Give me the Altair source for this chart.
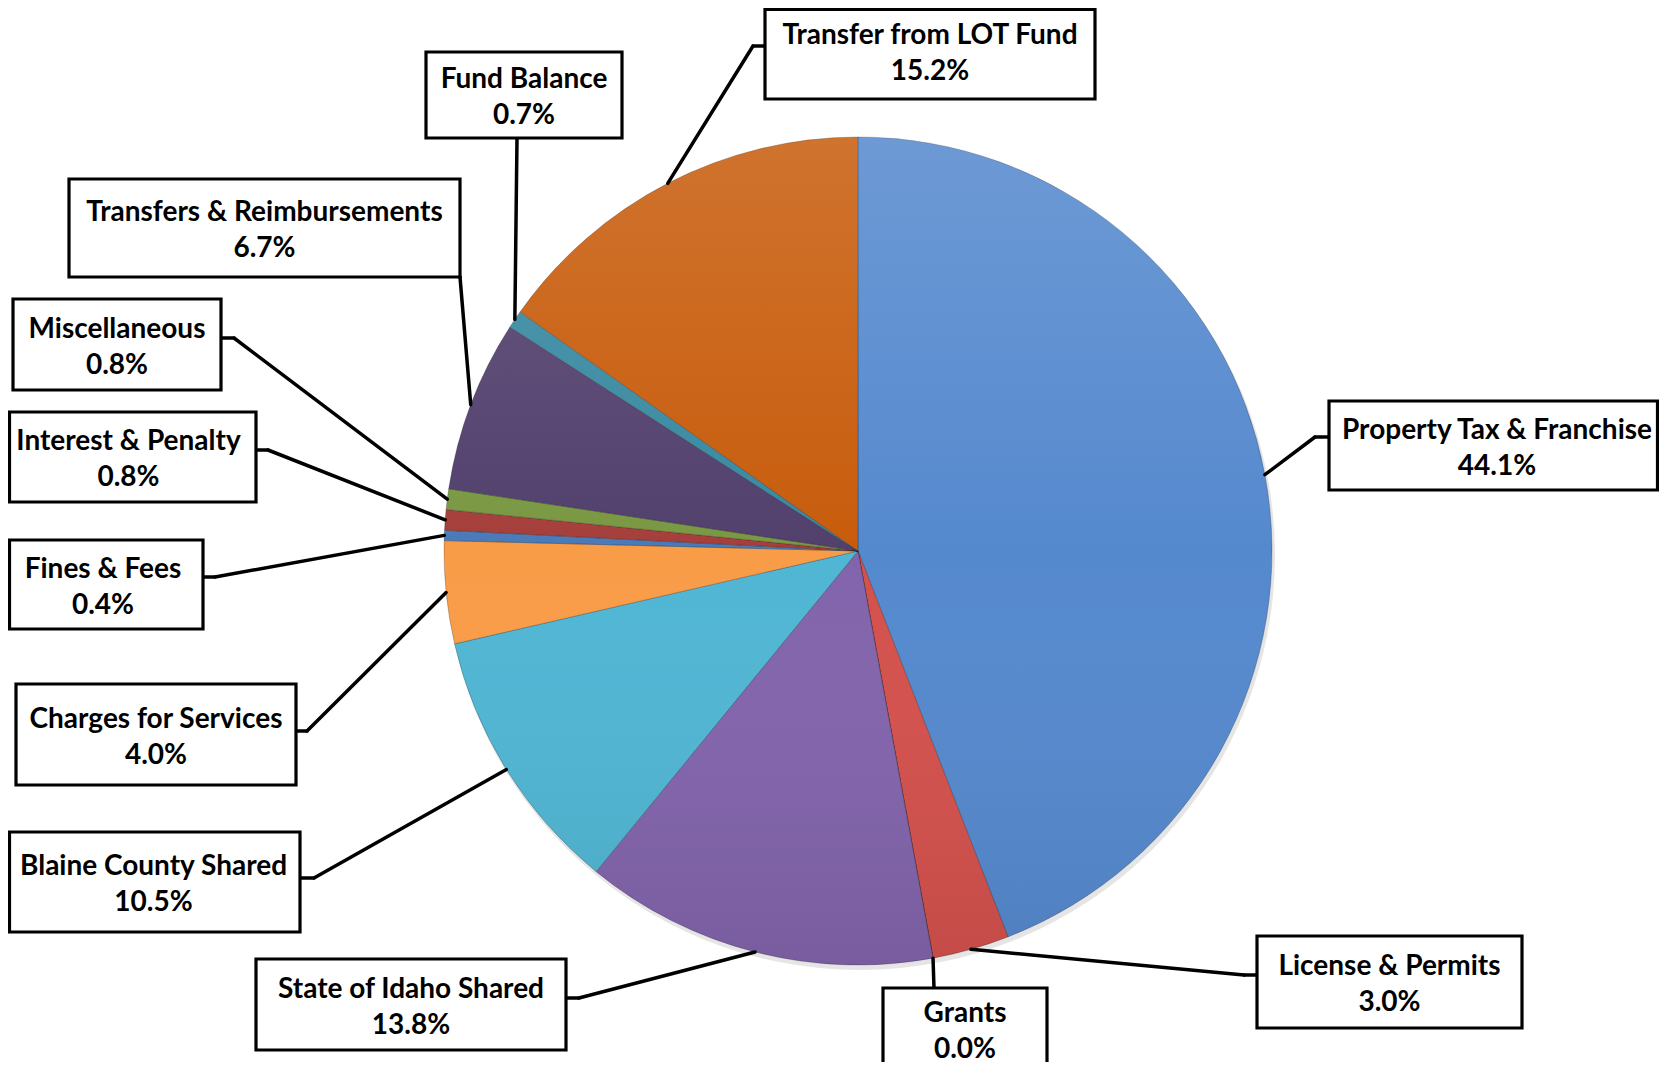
import altair as alt
import pandas as pd
import numpy as np

# ---------------- data ----------------
categories = [
    "Property Tax & Franchise", "License & Permits", "Grants",
    "State of Idaho Shared", "Blaine County Shared", "Charges for Services",
    "Fines & Fees", "Interest & Penalty", "Miscellaneous",
    "Transfers & Reimbursements", "Fund Balance", "Transfer from LOT Fund",
]
shares = [44.1, 3.0, 0.0, 13.8, 10.5, 4.0, 0.4, 0.8, 0.8, 6.7, 0.7, 15.2]
colors = [
    "#5589CE", "#D4514D", "#9BBB59", "#8264AC", "#50B6D4", "#F99C48",
    "#4A7AB8", "#A63F3B", "#7A9843", "#52406D", "#3889A1", "#C85C0C",
]

# ---------------- layout (page pixels) ----------------
W, H = 1651, 1054
CX, CY, R = 858, 551, 414
box_x1 = [1329, 1257, 883, 256, 7, 16, 3, 1, 13, 69, 426, 765]
box_y1 = [401, 936, 988, 959, 832, 684, 540, 412, 299, 179, 52, 3]
box_x2 = [1665, 1522, 1047, 566, 300, 296, 203, 256, 221, 460, 622, 1095]
box_y2 = [490, 1028, 1069, 1050, 932, 785, 629, 502, 390, 277, 138, 99]
attach_x = [1329, 1257, 934, 566, 300, 296, 203, 256, 221, 460, 517, 765]
attach_y = [437, 975, 988, 998, 878, 731, 577, 450, 338, 277, 138, 46]
elbow_x = [1315, 1244, 934, 579, 314, 307, 215, 268, 234, 460, 517, 753]
elbow_y = [437, 975, 988, 998, 878, 731, 577, 450, 338, 277, 138, 46]

FONT = "Lato"
FSIZE = 28
LO, HI_X = 9.5, 8 + W - 1.5

df = pd.DataFrame({
    "idx": range(len(categories)),
    "name": categories,
    "share": shares,
})
df["pct"] = df["share"].map(lambda v: f"{v:.1f}%")
cum = df["share"].cumsum()
mid = (cum - df["share"] / 2) / 100.0 * 2 * np.pi
df["ax"] = CX + R * np.sin(mid)
df["ay"] = CY - R * np.cos(mid)
bx1 = np.array(box_x1, float); by1 = np.array(box_y1, float)
bx2 = np.array(box_x2, float); by2 = np.array(box_y2, float)
df["cxm"] = (bx1 + bx2) / 2
df["cym"] = (by1 + by2) / 2
df["bx1"] = np.clip(bx1, LO, HI_X)
df["bx2"] = np.clip(bx2, LO, HI_X)
df["by1"] = np.clip(by1, LO, None)
df["by2"] = by2 + np.where(by2 > 8 + H, 20, 0)  # box running off the bottom edge
df["t1"] = df["cym"] - 15
df["t2"] = df["cym"] + 21

seg = pd.concat([
    pd.DataFrame({"x": attach_x, "y": attach_y, "x2": elbow_x, "y2": elbow_y}),
    pd.DataFrame({"x": elbow_x, "y": elbow_y, "x2": df["ax"], "y2": df["ay"]}),
], ignore_index=True)

XS = alt.Scale(domain=[8, 8 + W], nice=False, zero=False)
YS = alt.Scale(domain=[8, 8 + H], nice=False, zero=False, reverse=True)

full = pd.DataFrame({"v": [100.0]})

shadow = alt.Chart(full).mark_arc(outerRadius=R + 1, color="#000000", opacity=0.10).encode(
    theta=alt.Theta("v:Q"),
    x=alt.value(CX - 8 + 2), y=alt.value(CY - 8 + 4),
)

pie = alt.Chart(df).mark_arc(outerRadius=R, stroke="#000000", strokeOpacity=0.22, strokeWidth=1).encode(
    theta=alt.Theta("share:Q", stack=True),
    order=alt.Order("idx:Q"),
    color=alt.Color("name:N", scale=alt.Scale(domain=categories, range=colors), legend=None),
    x=alt.value(CX - 8), y=alt.value(CY - 8),
)

shade = alt.Chart(full).mark_arc(
    outerRadius=R,
    color=alt.Gradient(
        gradient="linear", x1=0, y1=0, x2=0, y2=1,
        stops=[
            alt.GradientStop(color="rgba(255,255,255,0.14)", offset=0),
            alt.GradientStop(color="rgba(255,255,255,0.0)", offset=0.5),
            alt.GradientStop(color="rgba(0,0,0,0.08)", offset=1),
        ],
    ),
).encode(
    theta=alt.Theta("v:Q"),
    x=alt.value(CX - 8), y=alt.value(CY - 8),
)

lines = alt.Chart(seg).mark_rule(color="black", strokeWidth=3.5, strokeCap="round").encode(
    x=alt.X("x:Q", scale=XS, axis=None),
    y=alt.Y("y:Q", scale=YS, axis=None),
    x2="x2:Q", y2="y2:Q",
)

boxes = alt.Chart(df).mark_rect(fill="white", stroke="black", strokeWidth=3.2).encode(
    x=alt.X("bx1:Q", scale=XS, axis=None),
    y=alt.Y("by1:Q", scale=YS, axis=None),
    x2="bx2:Q", y2="by2:Q",
)

txt1 = alt.Chart(df).mark_text(font=FONT, fontSize=FSIZE, fontWeight="bold", color="black",
                              align="center", baseline="middle").encode(
    x=alt.X("cxm:Q", scale=XS, axis=None),
    y=alt.Y("t1:Q", scale=YS, axis=None),
    text="name:N",
)
txt2 = alt.Chart(df).mark_text(font=FONT, fontSize=FSIZE, fontWeight="bold", color="black",
                              align="center", baseline="middle").encode(
    x=alt.X("cxm:Q", scale=XS, axis=None),
    y=alt.Y("t2:Q", scale=YS, axis=None),
    text="pct:N",
)

chart = alt.layer(shadow, pie, shade, lines, boxes, txt1, txt2).properties(
    width=W, height=H, padding=0, autosize=alt.AutoSizeParams(type="none"),
    background="white",
).configure_view(stroke=None)

chart.save("out.html", embed_options={"renderer": "svg", "actions": False})
